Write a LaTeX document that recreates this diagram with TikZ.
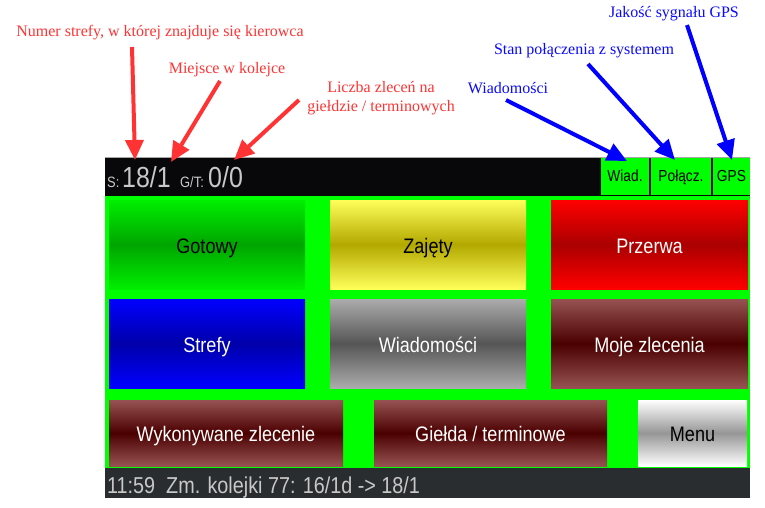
\documentclass[tikz,border=0pt]{standalone}
\usepackage{fontspec}
\usepackage{xcolor}
\usepackage{tikz}
\usetikzlibrary{arrows.meta}
\setmainfont{Liberation Serif}
\newfontfamily\uifont[FakeStretch=0.86]{Liberation Sans}

\definecolor{notered}{RGB}{255,51,51}
\definecolor{noteblue}{RGB}{10,10,255}
\definecolor{screengreen}{RGB}{0,255,0}
\definecolor{barblack}{RGB}{8,8,10}
\definecolor{statusgray}{RGB}{42,45,48}
\definecolor{bartext}{RGB}{200,200,200}

\tikzset{
  btn/.style={rectangle,inner sep=0pt,minimum width=196pt,minimum height=89pt,
    text height=21pt,text depth=4pt,font=\uifont\fontsize{21}{25}\selectfont},
  redarrow/.style={draw=notered,line width=4pt,-{Triangle[width=18pt,length=20pt]}},
  bluearrow/.style={draw=blue,line width=4pt,-{Triangle[width=18pt,length=20pt]}},
  rednote/.style={text=notered,font=\fontsize{16}{19}\selectfont,inner sep=0pt,align=center},
  bluenote/.style={text=noteblue,font=\fontsize{16}{19}\selectfont,inner sep=0pt},
  topbox/.style={rectangle,fill=screengreen,inner sep=0pt,minimum height=37pt,
    text height=12pt,text depth=3pt,font=\uifont\fontsize{16}{19}\selectfont}
}

\begin{document}
\begin{tikzpicture}[x=1pt,y=-1pt]
\useasboundingbox (0,0) rectangle (765,508);
% screen
\fill[barblack] (105,157) rectangle (750,196);
\draw[gray!70,line width=1pt] (105,157.5) -- (750,157.5);
\fill[screengreen] (105,196) rectangle (750,468);
\fill[statusgray] (105,468) rectangle (750,498);

% top bar
\node (s) at (107,187) [anchor=base west,inner sep=0pt,text=bartext,font=\uifont\fontsize{15}{17}\selectfont] {S:};
\node (zone) at (122,187) [anchor=base west,inner sep=0pt,text=bartext,font=\uifont\fontsize{29}{33}\selectfont] {18/1};
\node (gt) at (180,187) [anchor=base west,inner sep=0pt,text=bartext,font=\uifont\fontsize{15}{17}\selectfont] {G/T:};
\node (orders) at (208,187) [anchor=base west,inner sep=0pt,text=bartext,font=\uifont\fontsize{29}{33}\selectfont] {0/0};
\node (wiad) at (625,176.5) [topbox,minimum width=48pt] {Wiad.};
\node (polacz) at (681,176.5) [topbox,minimum width=60pt] {Połącz.};
\node (gps) at (731.5,176.5) [topbox,minimum width=37pt] {GPS};

% buttons
\node (gotowy) at (207,244.5) [btn,top color={rgb,255:red,0;green,238;blue,0},bottom color={rgb,255:red,0;green,238;blue,0},middle color={rgb,255:red,0;green,165;blue,0}] {Gotowy};
\node (zajety) at (428,244.5) [btn,top color={rgb,255:red,255;green,255;blue,90},bottom color={rgb,255:red,255;green,255;blue,90},middle color={rgb,255:red,178;green,168;blue,0}] {Zajęty};
\node (przerwa) at (649.5,244.5) [btn,minimum width=197pt,text=white,top color={rgb,255:red,255;green,0;blue,0},bottom color={rgb,255:red,255;green,0;blue,0},middle color={rgb,255:red,170;green,0;blue,0}] {Przerwa};
\node (strefy) at (207,343.5) [btn,text=white,top color={rgb,255:red,0;green,0;blue,255},bottom color={rgb,255:red,0;green,0;blue,255},middle color={rgb,255:red,0;green,0;blue,170}] {Strefy};
\node (wiadomosci) at (428,343.5) [btn,text=white,top color={rgb,255:red,172;green,172;blue,172},bottom color={rgb,255:red,172;green,172;blue,172},middle color={rgb,255:red,85;green,85;blue,85}] {Wiadomości};
\node (moje) at (649.5,343.5) [btn,minimum width=197pt,text=white,top color={rgb,255:red,150;green,82;blue,82},bottom color={rgb,255:red,150;green,82;blue,82},middle color={rgb,255:red,75;green,0;blue,0}] {Moje zlecenia};
\node (wykon) at (226,433) [btn,minimum width=234pt,minimum height=66pt,text=white,top color={rgb,255:red,150;green,82;blue,82},bottom color={rgb,255:red,150;green,82;blue,82},middle color={rgb,255:red,75;green,0;blue,0}] {Wykonywane zlecenie};
\node (gielda) at (490.5,433) [btn,minimum width=233pt,minimum height=66pt,text=white,top color={rgb,255:red,150;green,82;blue,82},bottom color={rgb,255:red,150;green,82;blue,82},middle color={rgb,255:red,75;green,0;blue,0}] {Giełda / terminowe};
\node (menu) at (692.5,433) [btn,minimum width=109pt,minimum height=66pt,top color=white,bottom color=white,middle color={rgb,255:red,150;green,150;blue,150}] {Menu};

% status line
\node (status) at (107,493) [anchor=base west,inner sep=0pt,text=bartext,font=\uifont\fontsize{23}{27}\selectfont] {11:59~~Zm. kolejki 77: 16/1d -> 18/1};

% notes
\node (numer) at (160,33) [rednote] {Numer strefy, w której znajduje się kierowca};
\node (miejsce) at (227,70) [rednote] {Miejsce w kolejce};
\node (liczba) at (381,98) [rednote] {Liczba zleceń na\\giełdzie / terminowych};
\node (wiadnote) at (508,88) [bluenote] {Wiadomości};
\node (stan) at (584,51) [bluenote] {Stan połączenia z systemem};
\node (jakosc) at (674,14) [bluenote] {Jakość sygnału GPS};

\coordinate (numtail) at (132,47);
\coordinate (numtip) at (135,160);
\coordinate (miejtail) at (220,81);
\coordinate (miejtip) at (171,162);
\coordinate (licztail) at (299,100);
\coordinate (licztip) at (234,160);
\coordinate (wiadtail) at (506,100);
\coordinate (wiadtip) at (627,161);
\coordinate (stantail) at (588,64);
\coordinate (stantip) at (675,160);
\coordinate (gpstail) at (687,25);
\coordinate (gpstip) at (732,160);

\draw[redarrow] (numtail) -- (numtip);
\draw[redarrow] (miejtail) -- (miejtip);
\draw[redarrow] (licztail) -- (licztip);
\draw[bluearrow] (wiadtail) -- (wiadtip);
\draw[bluearrow] (stantail) -- (stantip);
\draw[bluearrow] (gpstail) -- (gpstip);
\end{tikzpicture}
\end{document}
